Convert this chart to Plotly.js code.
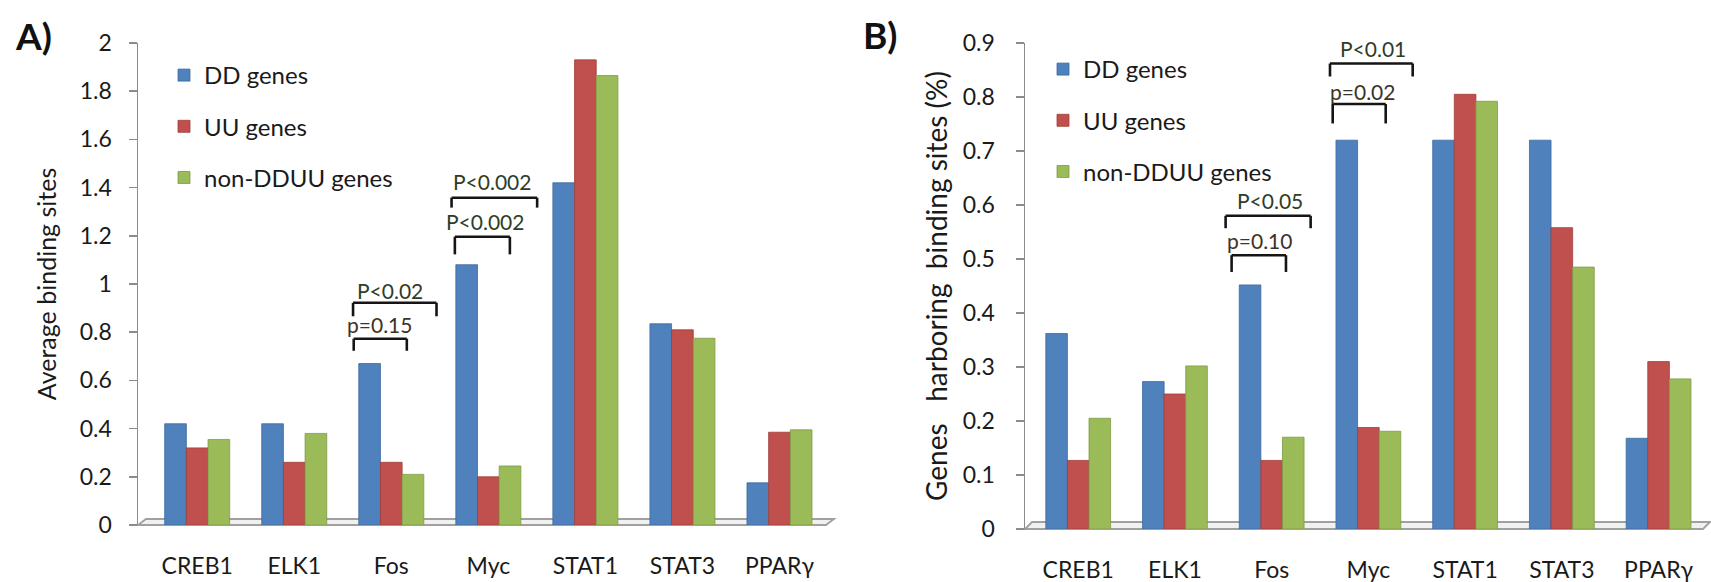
<!DOCTYPE html>
<html><head><meta charset="utf-8">
<script src="https://cdn.plot.ly/plotly-3.0.1.min.js"></script>
<style>html,body{margin:0;padding:0;background:#fff;} #chart{width:1711px;height:582px;}</style>
</head><body><div id="chart"></div>
<script>
// ---- data ----
const categories = ['CREB1', 'ELK1', 'Fos', 'Myc', 'STAT1', 'STAT3', 'PPARγ'];
const seriesNames = ['DD genes', 'UU genes', 'non-DDUU genes'];

// Panel A: average binding sites
const avgDD  = [0.42, 0.42, 0.67, 1.08, 1.42, 0.835, 0.175];
const avgUU  = [0.32, 0.26, 0.26, 0.20, 1.93, 0.81, 0.385];
const avgNon = [0.355, 0.38, 0.21, 0.245, 1.865, 0.775, 0.395];

// Panel B: genes harboring binding sites (%)
const pctDD  = [0.362, 0.273, 0.452, 0.72, 0.72, 0.72, 0.168];
const pctUU  = [0.127, 0.25, 0.127, 0.188, 0.805, 0.558, 0.31];
const pctNon = [0.205, 0.302, 0.17, 0.181, 0.792, 0.485, 0.278];

// p-value brackets (x in category index units, y in data units)
const bracketsA = [
  {x0: 1.606, x1: 2.466, y: 0.922, yLeg: 0.866, text: 'P<0.02',  tx: 1.985, ty: 0.973},
  {x0: 1.613, x1: 2.160, y: 0.773, yLeg: 0.723, text: 'p=0.15',  tx: 1.881, ty: 0.832},
  {x0: 2.621, x1: 3.503, y: 1.358, yLeg: 1.317, text: 'P<0.002', tx: 3.033, ty: 1.427},
  {x0: 2.655, x1: 3.222, y: 1.196, yLeg: 1.123, text: 'P<0.002', tx: 2.964, ty: 1.261}
];
const bracketsB = [
  {x0: 1.524, x1: 2.403, y: 0.580, yLeg: 0.557, text: 'P<0.05', tx: 1.982, ty: 0.609},
  {x0: 1.586, x1: 2.148, y: 0.507, yLeg: 0.476, text: 'p=0.10', tx: 1.879, ty: 0.534},
  {x0: 2.603, x1: 3.458, y: 0.862, yLeg: 0.838, text: 'P<0.01', tx: 3.051, ty: 0.890},
  {x0: 2.631, x1: 3.179, y: 0.787, yLeg: 0.751, text: 'p=0.02', tx: 2.941, ty: 0.810}
];

// ---- styling ----
const W = 1711, H = 582;
const colors = ['#4F81BD', '#C0504D', '#9BBB59'];
const lineColors = ['#3d6a9e', '#9e3d3a', '#7d9a45'];
const FONT = 'Lato, "Open Sans", "DejaVu Sans", sans-serif';
const px = x => x / W;
const py = y => 1 - y / H;

const seriesA = [avgDD, avgUU, avgNon];
const seriesB = [pctDD, pctUU, pctNon];

const traces = [];
seriesA.forEach((vals, i) => traces.push({
  type: 'bar', x: categories, y: vals, name: seriesNames[i],
  xaxis: 'x', yaxis: 'y', legend: 'legend', legendgroup: 'a' + i,
  marker: {color: colors[i], line: {color: lineColors[i], width: 0.8}},
  hoverinfo: 'x+y+name'
}));
seriesB.forEach((vals, i) => traces.push({
  type: 'bar', x: categories, y: vals, name: seriesNames[i],
  xaxis: 'x2', yaxis: 'y2', legend: 'legend2', legendgroup: 'b' + i,
  marker: {color: colors[i], line: {color: lineColors[i], width: 0.8}},
  hoverinfo: 'x+y+name'
}));

const shapes = [];
// 3D-style floors
shapes.push({type: 'path', xref: 'paper', yref: 'paper', layer: 'below',
  path: `M${px(138)},${py(525)} L${px(826)},${py(525)} L${px(834)},${py(519)} L${px(146)},${py(519)} Z`,
  fillcolor: '#f1f1f1', line: {color: '#a0a0a0', width: 1.8}});
shapes.push({type: 'path', xref: 'paper', yref: 'paper', layer: 'below',
  path: `M${px(1025)},${py(529)} L${px(1703)},${py(529)} L${px(1710)},${py(522)} L${px(1032)},${py(522)} Z`,
  fillcolor: '#f1f1f1', line: {color: '#a0a0a0', width: 1.8}});

const annotations = [];
function addBrackets(list, xr, yr) {
  list.forEach(b => {
    const ln = {color: '#151515', width: 2.6};
    shapes.push({type: 'line', xref: xr, yref: yr, x0: b.x0, x1: b.x1, y0: b.y, y1: b.y, line: ln});
    shapes.push({type: 'line', xref: xr, yref: yr, x0: b.x0, x1: b.x0, y0: b.y, y1: b.yLeg, line: ln});
    shapes.push({type: 'line', xref: xr, yref: yr, x0: b.x1, x1: b.x1, y0: b.y, y1: b.yLeg, line: ln});
    annotations.push({xref: xr, yref: yr, x: b.tx, y: b.ty, text: b.text, showarrow: false,
      xanchor: 'center', yanchor: 'middle',
      font: {family: FONT, size: 21, color: b.text[0] === 'P' ? '#2f3d28' : '#3d3328'}});
  });
}
addBrackets(bracketsA, 'x', 'y');
addBrackets(bracketsB, 'x2', 'y2');

annotations.push({xref: 'paper', yref: 'paper', x: px(33), y: py(35), xanchor: 'center', yanchor: 'middle',
  text: '<b>A)</b>', showarrow: false, font: {family: FONT, size: 37, color: '#111'}});
annotations.push({xref: 'paper', yref: 'paper', x: px(880), y: py(34), xanchor: 'center', yanchor: 'middle',
  text: '<b>B)</b>', showarrow: false, font: {family: FONT, size: 37, color: '#111'}});

const xCommon = {type: 'category', showline: false, showgrid: false, zeroline: false, ticks: '',
  tickfont: {family: FONT, size: 23, color: '#1a1a1a'}, ticklabelstandoff: 25, fixedrange: true};
const yCommon = {showline: true, linecolor: '#8c8c8c', linewidth: 1.5, ticks: 'outside', ticklen: 8,
  tickcolor: '#8c8c8c', tickwidth: 1.5, showgrid: false, zeroline: false,
  tickfont: {family: FONT, size: 23, color: '#1a1a1a'}, fixedrange: true};

const legendCommon = {xanchor: 'left', yanchor: 'top', bgcolor: 'rgba(0,0,0,0)',
  font: {family: FONT, size: 24, color: '#1a1a1a'}, tracegroupgap: 17, traceorder: 'grouped',
  itemwidth: 30};

const layout = {
  width: W, height: H, margin: {l: 0, r: 0, t: 0, b: 0},
  paper_bgcolor: '#ffffff', plot_bgcolor: 'rgba(0,0,0,0)',
  font: {family: FONT, color: '#1a1a1a'},
  barmode: 'group', bargap: 0.33, bargroupgap: 0,
  xaxis: Object.assign({}, xCommon, {domain: [px(138), px(828)], range: [-0.61, 6.5], anchor: 'y'}),
  yaxis: Object.assign({}, yCommon, {domain: [py(525), py(43)], range: [0, 2], dtick: 0.2, anchor: 'x',
    ticklabelstandoff: 12,
    title: {text: 'Average binding sites', font: {family: FONT, size: 25, color: '#1a1a1a'}, standoff: 16}}),
  xaxis2: Object.assign({}, xCommon, {domain: [px(1025), px(1705)], range: [-0.55, 6.48], anchor: 'y2'}),
  yaxis2: Object.assign({}, yCommon, {domain: [py(529), py(43)], range: [0, 0.9], dtick: 0.1, anchor: 'x2',
    ticklabelstandoff: 16,
    title: {text: 'Genes\u00a0\u00a0\u00a0harboring\u00a0\u00a0binding sites (%)', font: {family: FONT, size: 28, color: '#1a1a1a'}, standoff: 7}}),
  legend: Object.assign({}, legendCommon, {x: px(164), y: py(53)}),
  legend2: Object.assign({}, legendCommon, {x: px(1043), y: py(47)}),
  shapes: shapes,
  annotations: annotations,
  showlegend: true
};

Plotly.newPlot('chart', traces, layout, {displayModeBar: false, staticPlot: true});
</script>
</body></html>
